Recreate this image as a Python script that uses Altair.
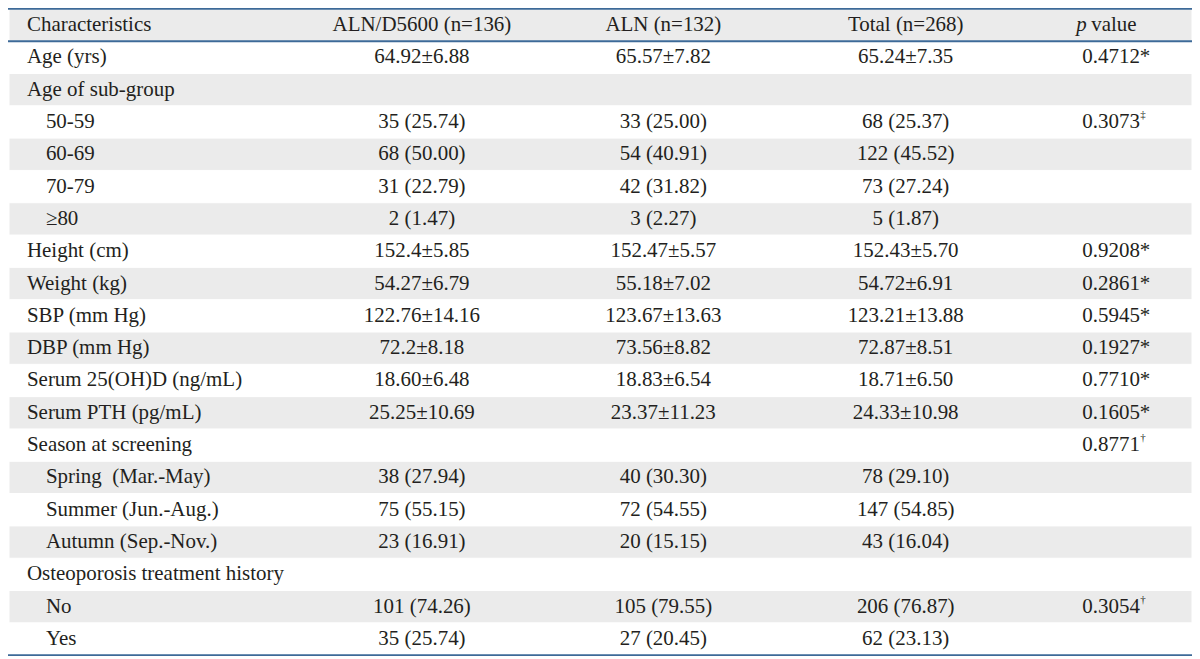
import altair as alt
import pandas as pd

# ---- table content ----
headers = ["Characteristics", "ALN/D5600 (n=136)", "ALN (n=132)", "Total (n=268)"]
p_header_italic = "p"
p_header_rest = "value"

labels = ["Age (yrs)", "Age of sub-group", "50-59", "60-69", "70-79", "≥80",
          "Height (cm)", "Weight (kg)", "SBP (mm Hg)", "DBP (mm Hg)",
          "Serum 25(OH)D (ng/mL)", "Serum PTH (pg/mL)", "Season at screening",
          "Spring\u00a0 (Mar.-May)", "Summer (Jun.-Aug.)", "Autumn (Sep.-Nov.)",
          "Osteoporosis treatment history", "No", "Yes"]
indented = [0, 0, 1, 1, 1, 1, 0, 0, 0, 0, 0, 0, 0, 1, 1, 1, 0, 1, 1]
aln_d5600 = ["64.92±6.88", "", "35 (25.74)", "68 (50.00)", "31 (22.79)", "2 (1.47)",
             "152.4±5.85", "54.27±6.79", "122.76±14.16", "72.2±8.18", "18.60±6.48",
             "25.25±10.69", "", "38 (27.94)", "75 (55.15)", "23 (16.91)", "",
             "101 (74.26)", "35 (25.74)"]
aln = ["65.57±7.82", "", "33 (25.00)", "54 (40.91)", "42 (31.82)", "3 (2.27)",
       "152.47±5.57", "55.18±7.02", "123.67±13.63", "73.56±8.82", "18.83±6.54",
       "23.37±11.23", "", "40 (30.30)", "72 (54.55)", "20 (15.15)", "",
       "105 (79.55)", "27 (20.45)"]
total = ["65.24±7.35", "", "68 (25.37)", "122 (45.52)", "73 (27.24)", "5 (1.87)",
         "152.43±5.70", "54.72±6.91", "123.21±13.88", "72.87±8.51", "18.71±6.50",
         "24.33±10.98", "", "78 (29.10)", "147 (54.85)", "43 (16.04)", "",
         "206 (76.87)", "62 (23.13)"]
p_values = ["0.4712*", "", "0.3073", "", "", "", "0.9208*", "0.2861*", "0.5945*",
            "0.1927*", "0.7710*", "0.1605*", "0.8771", "", "", "", "", "0.3054", ""]
p_marks = ["", "", "‡", "", "", "", "", "", "", "", "", "", "†", "", "", "", "", "†", ""]

# ---- layout (pixels) ----
W, H = 1187, 648
NROWS = len(labels) + 1
X_LABEL, X_INDENT = 19, 38
X_COL = [415, 657, 900]
X_P = 1077
FONT = "Liberation Serif"
FS = 21
TXT = "#231f20"
GREY = "#ebebeb"
BLUE = "#3d6a98"

xs = alt.Scale(domain=[0, W], range=[0, W], nice=False, zero=False)
ys = alt.Scale(domain=[0, NROWS], range=[0, H], nice=False, zero=False)

# text records
recs = []
for i, h in enumerate(headers):
    recs.append(dict(r=0.5, x=X_LABEL if i == 0 else X_COL[i - 1], t=h,
                     a="left" if i == 0 else "center"))
for k, lab in enumerate(labels):
    r = k + 1.5
    recs.append(dict(r=r, x=X_INDENT if indented[k] else X_LABEL, t=lab, a="left"))
    for j, col in enumerate([aln_d5600, aln, total]):
        if col[k]:
            recs.append(dict(r=r, x=X_COL[j], t=col[k], a="center"))
    if p_values[k]:
        recs.append(dict(r=r, x=X_P, t=p_values[k], a="left"))
df = pd.DataFrame(recs)

sup = pd.DataFrame([dict(r=k + 1.5, x=X_P + 58, t=m) for k, m in enumerate(p_marks) if m])
bands = pd.DataFrame([dict(r0=i, r1=i + 1) for i in range(NROWS) if i % 2 == 0])
lines = pd.DataFrame(dict(r=[0, 1, NROWS]))

band_layer = alt.Chart(bands).mark_rect(color=GREY, stroke="white", strokeWidth=1).encode(
    x=alt.value(1), x2=alt.value(W),
    y=alt.Y("r0:Q", scale=ys, axis=None), y2="r1:Q")

rule_layer = alt.Chart(lines).mark_rule(color=BLUE, strokeWidth=2).encode(
    x=alt.value(0), x2=alt.value(W),
    y=alt.Y("r:Q", scale=ys, axis=None))

def text_layer(data, align, style="normal"):
    return alt.Chart(data).transform_filter(alt.datum.a == align).mark_text(
        align=align, baseline="middle", font=FONT, fontSize=FS, color=TXT, dy=0,
        fontStyle=style
    ).encode(x=alt.X("x:Q", scale=xs, axis=None),
             y=alt.Y("r:Q", scale=ys, axis=None),
             text="t:N")

left_text = text_layer(df, "left")
center_text = text_layer(df, "center")

sup_layer = alt.Chart(sup).mark_text(
    align="left", baseline="middle", font=FONT, fontSize=11, color=TXT, dy=-7
).encode(x=alt.X("x:Q", scale=xs, axis=None), y=alt.Y("r:Q", scale=ys, axis=None), text="t:N")

ph_i = pd.DataFrame([dict(r=0.5, x=X_P - 6, t=p_header_italic, a="left")])
ph_n = pd.DataFrame([dict(r=0.5, x=X_P + 9, t=p_header_rest, a="left")])
p_head_i = text_layer(ph_i, "left", "italic")
p_head_n = text_layer(ph_n, "left")

chart = alt.layer(band_layer, rule_layer, left_text, center_text, sup_layer,
                  p_head_i, p_head_n).properties(
    width=W, height=H, padding=0, autosize=alt.AutoSizeParams(type="none")
).configure_view(stroke=None)

chart.save("out.html", embed_options={"renderer": "svg", "actions": False})
